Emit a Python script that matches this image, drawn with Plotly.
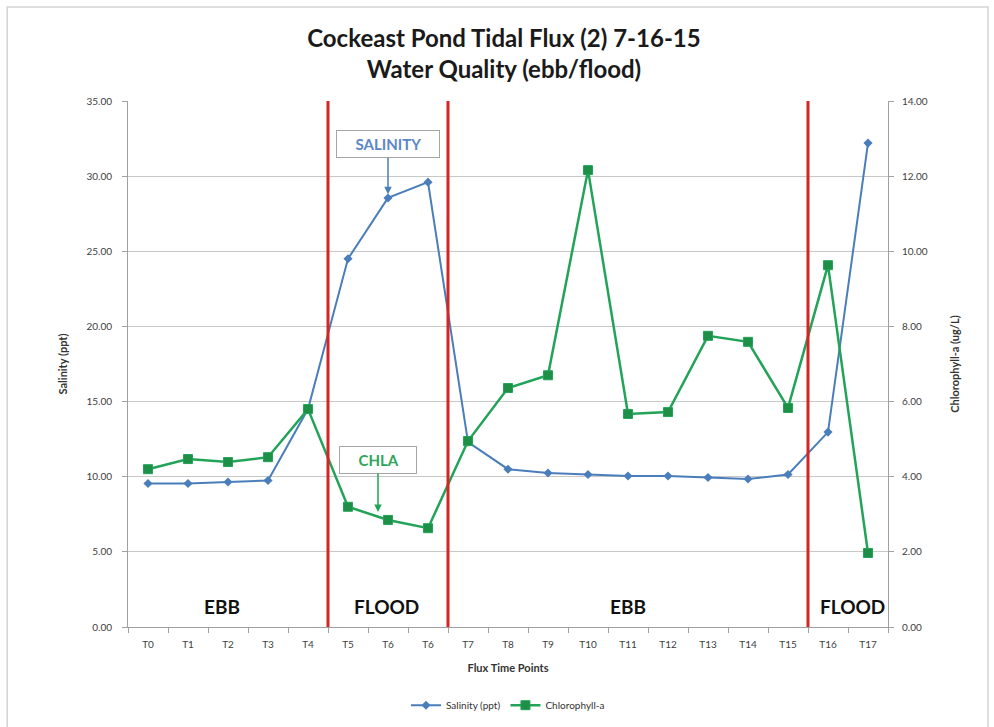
import plotly.graph_objects as go

# Flux sampling points (T6 was sampled twice)
time_points = ["T0", "T1", "T2", "T3", "T4", "T5", "T6", "T6", "T7", "T8", "T9",
               "T10", "T11", "T12", "T13", "T14", "T15", "T16", "T17"]
salinity_ppt = [9.55, 9.55, 9.65, 9.75, 14.5, 24.5, 28.55, 29.6, 12.3, 10.5, 10.25,
                10.15, 10.05, 10.05, 9.95, 9.85, 10.15, 12.97, 32.2]
chla_ugl = [4.2, 4.47, 4.39, 4.52, 5.8, 3.2, 2.85, 2.63, 4.95, 6.36, 6.7,
            12.16, 5.67, 5.72, 7.75, 7.59, 5.83, 9.63, 1.97]

# Tide changes fall between these sample positions
tide_changes = [4.5, 7.5, 16.5]
tide_labels = ["EBB", "FLOOD", "EBB", "FLOOD"]
tide_label_pos = [1.85, 5.95, 12.0, 17.6]

x_idx = list(range(len(time_points)))

FONT = "Lato"
BLUE = "#4a7ebb"
GREEN = "#22a358"
GRID = "#c8c8c8"
NBSP = "\u00a0"

fig = go.Figure()
fig.add_trace(go.Scatter(
    x=x_idx, y=salinity_ppt, name="Salinity (ppt)", mode="lines+markers",
    line=dict(color=BLUE, width=2),
    marker=dict(symbol="diamond", size=7, color=BLUE),
    yaxis="y"))
fig.add_trace(go.Scatter(
    x=x_idx, y=chla_ugl, name="Chlorophyll-a", mode="lines+markers",
    line=dict(color=GREEN, width=2.5),
    marker=dict(symbol="square", size=9, color="#1d8f47",
                line=dict(color=GREEN, width=1)),
    yaxis="y2"))

shapes = []
for xc in tide_changes:
    shapes.append(dict(type="line", xref="x", yref="paper", x0=xc, x1=xc,
                       y0=0, y1=1, line=dict(color="#d42424", width=3)))
# outer chart frame
shapes.append(dict(type="rect", xref="paper", yref="paper",
                   x0=-0.159, x1=1.1316, y0=-0.32, y1=1.1787,
                   line=dict(color="#d4d4d4", width=1.5), layer="below"))

annotations = []
for lbl, xp in zip(tide_labels, tide_label_pos):
    annotations.append(dict(x=xp, y=1.35, xref="x", yref="y", text=lbl,
                            showarrow=False,
                            font=dict(family=FONT, size=19, color="#111111",
                                      weight="bold")))
annotations.append(dict(
    x=6.0, y=28.8, xref="x", yref="y", text=NBSP * 4 + "SALINITY" + NBSP * 4,
    showarrow=True, arrowhead=2, arrowsize=1, arrowwidth=1.5, arrowcolor=BLUE,
    ax=0, ay=-50, bordercolor="#a6a6a6", borderwidth=1, borderpad=4,
    bgcolor="white",
    font=dict(family=FONT, size=15, color="#5b87c5", weight="bold")))
annotations.append(dict(
    x=5.75, y=3.06, xref="x", yref="y2", text=NBSP * 4 + "CHLA" + NBSP * 4,
    showarrow=True, arrowhead=2, arrowsize=1, arrowwidth=1.5, arrowcolor=GREEN,
    ax=0, ay=-52, bordercolor="#a6a6a6", borderwidth=1, borderpad=4,
    bgcolor="white",
    font=dict(family=FONT, size=15, color="#2ea55a", weight="bold")))

fig.update_layout(
    width=994, height=727,
    margin=dict(l=128, r=106, t=101, b=100, autoexpand=False),
    paper_bgcolor="white", plot_bgcolor="white",
    font=dict(family=FONT, color="#404040"),
    title=dict(text="Cockeast Pond Tidal Flux (2) 7-16-15<br>Water Quality (ebb/flood)",
               x=0.507, xanchor="center", y=0.936, yanchor="middle",
               font=dict(family=FONT, size=24, color="#1a1a1a", weight="bold")),
    xaxis=dict(range=[-0.5, len(time_points) - 0.5],
               tickvals=x_idx, ticktext=time_points, ticks="",
               ticklabelstandoff=8,
               tickfont=dict(size=10, color="#404040"),
               showgrid=False, zeroline=False,
               showline=True, linecolor="#a0a0a0", linewidth=1,
               minor=dict(tickvals=[i - 0.5 for i in range(len(time_points) + 1)],
                          ticks="outside", ticklen=5, tickcolor="#a0a0a0"),
               title=dict(text="Flux Time Points", standoff=15,
                          font=dict(size=11, color="#333333", weight="bold"))),
    yaxis=dict(range=[0, 35], dtick=5, tickformat=".2f",
               tickfont=dict(size=10, color="#404040"),
               ticklabelstandoff=8,
               showgrid=True, gridcolor=GRID, zeroline=False,
               showline=True, linecolor="#a0a0a0", ticks="outside", ticklen=5,
               tickcolor="#a0a0a0",
               title=dict(text="Salinity (ppt)", standoff=16,
                          font=dict(size=11, color="#333333", weight="bold"))),
    yaxis2=dict(range=[0, 14], dtick=2, tickformat=".2f", overlaying="y",
                side="right", showgrid=False, zeroline=False,
                ticklabelstandoff=6,
                tickfont=dict(size=10, color="#404040"),
                showline=True, linecolor="#a0a0a0", ticks="outside", ticklen=5,
                tickcolor="#a0a0a0",
                title=dict(text="Chlorophyll-a (ug/L)", standoff=24,
                           font=dict(size=11, color="#333333", weight="bold"))),
    legend=dict(orientation="h", x=0.5, xanchor="center",
                yref="container", y=0.03, yanchor="middle",
                font=dict(size=10, color="#333333")),
    shapes=shapes, annotations=annotations,
)

fig.write_html("out.html")
